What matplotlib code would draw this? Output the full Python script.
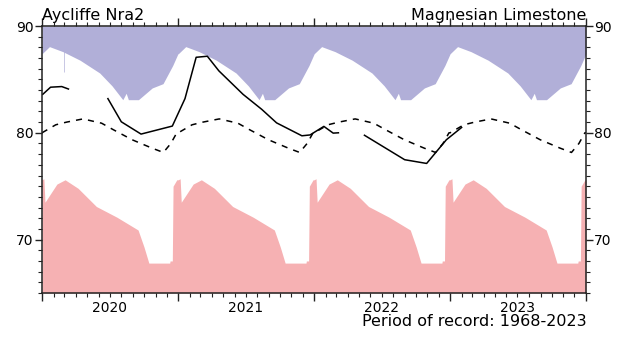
import numpy as np
import matplotlib
matplotlib.use("Agg")
import matplotlib.pyplot as plt
import matplotlib.dates as mdates
from matplotlib.ticker import MultipleLocator, FuncFormatter

# Long-term daily statistics (mAOD) by day of year, repeated for each plotted year
max_doy = [0, 20, 56, 102, 155, 188, 217, 226, 232, 259, 296, 325, 351, 365]
max_level = [87.4, 88.07, 87.6, 86.8, 85.6, 84.4, 83.1, 83.7, 83.1, 83.1, 84.2, 84.6, 86.3, 87.4]

min_doy = [0, 5, 8, 40, 62, 97, 146, 201, 258, 274, 287, 343, 344, 350, 352, 362, 365]
min_level = [75.6, 75.7, 73.5, 75.2, 75.6, 74.8, 73.1, 72.1, 70.9, 69.3, 67.8, 67.8, 68.0, 68.0, 75.0, 75.6, 75.6]

mean_doy = [0, 37, 66, 110, 160, 191, 242, 295, 326, 346, 362, 365]
mean_level = [80.0, 80.75, 81.0, 81.3, 80.9, 80.3, 79.35, 78.57, 78.16, 79.0, 80.0, 80.0]

years = [2020, 2021, 2022, 2023]

# Leap-day maximum (only leap years contribute)
leap_day = "2020-02-29"
leap_day_max = 85.7

# Observed groundwater levels (gaps where no readings)
obs_dates = ["2020-01-03", "2020-01-24", "2020-02-23", "2020-03-12",
             "2020-05-01",
             "2020-06-26", "2020-08-01", "2020-09-23", "2020-12-16", "2021-01-19",
             "2021-02-18", "2021-03-20", "2021-04-20", "2021-06-24", "2021-08-13",
             "2021-09-22", "2021-11-29", "2021-12-21", "2022-01-27", "2022-02-21",
             "2022-03-07",
             "2022-04-15",
             "2022-05-16", "2022-09-01", "2022-10-30", "2022-12-22", "2023-02-01"]
obs_levels = [83.6, 84.27, 84.33, 84.1,
              np.nan,
              83.2, 81.03, 79.88, 80.63, 83.2,
              87.07, 87.17, 85.8, 83.6, 82.2,
              80.93, 79.72, 79.8, 80.6, 79.97,
              80.0,
              np.nan,
              79.77, 77.48, 77.13, 79.35, 80.5]

site_name = "Aycliffe Nra2"
aquifer = "Magnesian Limestone"
record_text = "Period of record: 1968-2023"

y_top, y_bottom = 90, 65
purple = "#b1afd8"
pink = "#f6b1b3"


def build(doys, levels):
    dates, vals = [], []
    for yr in years:
        start = np.datetime64(f"{yr}-01-01")
        for d, v in zip(doys, levels):
            dates.append(start + np.timedelta64(int(d), "D"))
            vals.append(v)
    return np.array(dates, dtype="datetime64[D]"), np.array(vals)


max_t, max_v = build(max_doy, max_level)
min_t, min_v = build(min_doy, min_level)
mean_t, mean_v = build(mean_doy, mean_level)

fig = plt.figure(figsize=(6.21, 3.38), dpi=100)
ax = fig.add_axes([42 / 621, 45 / 338, 544 / 621, 267 / 338])

ax.fill_between(max_t, max_v, y_top, color=purple, lw=0)
ax.vlines(np.datetime64(leap_day), leap_day_max, y_top, color=purple, lw=0.7, alpha=0.7)
ax.fill_between(min_t, y_bottom, min_v, color=pink, lw=0)
ax.plot(mean_t, mean_v, color="black", lw=1.1, ls=(0, (4, 4)))
ax.plot(np.array(obs_dates, dtype="datetime64[D]"), obs_levels, color="black", lw=1.1)

ax.set_xlim(np.datetime64("2020-01-01"), np.datetime64("2024-01-01"))
ax.set_ylim(y_bottom, y_top)

ax.xaxis.set_major_locator(mdates.YearLocator())
ax.xaxis.set_major_formatter(FuncFormatter(lambda x, p: ""))
ax.xaxis.set_minor_locator(mdates.MonthLocator())


def year_label(x, pos):
    d = mdates.num2date(x)
    return str(d.year) if d.month == 7 else ""


ax.xaxis.set_minor_formatter(FuncFormatter(year_label))
ax.yaxis.set_major_locator(MultipleLocator(10))
ax.yaxis.set_minor_locator(MultipleLocator(1))

ax.tick_params(axis="both", which="both", direction="out", top=True, right=True,
               labelright=True, labelsize=10, color="#222222")
ax.tick_params(axis="x", which="major", length=6, width=1.0)
ax.tick_params(axis="x", which="minor", length=3, width=0.8, pad=3)
ax.tick_params(axis="y", which="major", length=5, width=1.0, pad=1)
ax.tick_params(axis="y", which="minor", length=3, width=0.8)

for s in ax.spines.values():
    s.set_linewidth(1.1)
    s.set_color("#222222")

ax.text(0, 1.01, site_name, transform=ax.transAxes, ha="left", va="bottom", fontsize=11.5)
ax.text(1, 1.01, aquifer, transform=ax.transAxes, ha="right", va="bottom", fontsize=11.5)
fig.text(587 / 621, 9 / 338, record_text, ha="right", va="bottom", fontsize=11.5)

fig.savefig("out.png", dpi=100)
